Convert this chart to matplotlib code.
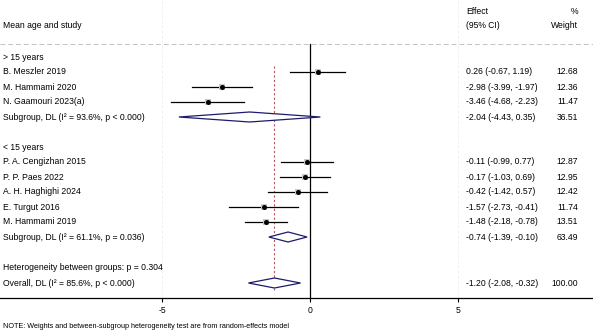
import matplotlib
matplotlib.use("Agg")
import matplotlib.pyplot as plt
from matplotlib.patches import Polygon

plt.rcParams['font.family'] = ['Liberation Sans', 'DejaVu Sans']

# ---- data ----
studies_g1 = ["B. Meszler 2019", "M. Hammami 2020", "N. Gaamouri 2023(a)"]
eff_g1 = [0.26, -2.98, -3.46]
lo_g1 = [-0.67, -3.99, -4.68]
hi_g1 = [1.19, -1.97, -2.23]
w_g1 = [12.68, 12.36, 11.47]
sub_g1 = (-2.04, -4.43, 0.35, 36.51)
sub_g1_label = "Subgroup, DL (I² = 93.6%, p < 0.000)"

studies_g2 = ["P. A. Cengizhan 2015", "P. P. Paes 2022", "A. H. Haghighi 2024",
              "E. Turgut 2016", "M. Hammami 2019"]
eff_g2 = [-0.11, -0.17, -0.42, -1.57, -1.48]
lo_g2 = [-0.99, -1.03, -1.42, -2.73, -2.18]
hi_g2 = [0.77, 0.69, 0.57, -0.41, -0.78]
w_g2 = [12.87, 12.95, 12.42, 11.74, 13.51]
sub_g2 = (-0.74, -1.39, -0.10, 63.49)
sub_g2_label = "Subgroup, DL (I² = 61.1%, p = 0.036)"

overall = (-1.20, -2.08, -0.32, 100.00)
overall_label = "Overall, DL (I² = 85.6%, p < 0.000)"
het_label = "Heterogeneity between groups: p = 0.304"
group_labels = ["> 15 years", "< 15 years"]
xticks = [-5, 0, 5]

W, H = 593, 330
fig = plt.figure(figsize=(W / 100, H / 100), dpi=100)
axis_px = 298
ax = fig.add_axes([0, (H - axis_px) / H, 1, axis_px / H])
px_per_unit = 29.6
x0_px = 310
ax.set_xlim(-x0_px / px_per_unit, (W - x0_px) / px_per_unit)
ax.set_ylim(axis_px, 0)
for s in ["left", "right", "top"]:
    ax.spines[s].set_visible(False)
ax.spines["bottom"].set_linewidth(0.9)
ax.set_yticks([])
ax.set_xticks(xticks)
ax.set_xticklabels([str(t) for t in xticks], fontsize=6.2)
ax.tick_params(axis='x', length=3, width=0.8, pad=3)
ax.set_facecolor('none')

fs = 6.2
navy = "#1c1c6c"
xtxt = ax.get_xlim()[0] + 3 / px_per_unit
xeff = (466 - x0_px) / px_per_unit
xw = (578 - x0_px) / px_per_unit

# faint gridlines
for t in [-5, 5]:
    ax.plot([t, t], [0, axis_px], color="#efefef", lw=0.6, ls=(0, (4, 2)), zorder=0)
ax.plot(ax.get_xlim(), [44, 44], color="#c4c4c4", lw=0.7, ls=(0, (5, 3)), zorder=0)

# headers
ax.text(xtxt, 26, "Mean age and study", fontsize=fs, va='center', ha='left')
ax.text(xeff, 11, "Effect", fontsize=fs, va='center', ha='left')
ax.text(xeff, 26, "(95% CI)", fontsize=fs, va='center', ha='left')
ax.text(xw, 11, "%", fontsize=fs, va='center', ha='right')
ax.text(xw, 26, "Weight", fontsize=fs, va='center', ha='right')

def fmt(e, l, h):
    return f"{e:.2f} ({l:.2f}, {h:.2f})"

def study_rows(names, eff, lo, hi, w, ystart):
    y = ystart
    for n, e, l, h, wt in zip(names, eff, lo, hi, w):
        ax.plot([l, h], [y, y], color='black', lw=0.9, zorder=3)
        ax.scatter([e], [y], marker='s', s=wt * 1.5, color='#c8c8c8', zorder=3, linewidths=0)
        ax.scatter([e], [y], marker='o', s=13, color='black', zorder=4, linewidths=0)
        ax.text(xtxt, y, n, fontsize=fs, va='center', ha='left')
        ax.text(xeff, y, fmt(e, l, h), fontsize=fs, va='center', ha='left')
        ax.text(xw, y, f"{wt:.2f}", fontsize=fs, va='center', ha='right')
        y += 15
    return y

def diamond(vals, label, y):
    e, l, h, wt = vals
    poly = Polygon([[l, y], [e, y - 5], [h, y], [e, y + 5]], closed=True,
                   facecolor='white', edgecolor=navy, lw=0.9, zorder=5)
    ax.add_patch(poly)
    ax.text(xtxt, y, label, fontsize=fs, va='center', ha='left')
    ax.text(xeff, y, fmt(e, l, h), fontsize=fs, va='center', ha='left')
    ax.text(xw, y, f"{wt:.2f}", fontsize=fs, va='center', ha='right')

# vertical reference lines
ax.plot([0, 0], [44, axis_px], color='black', lw=0.9, zorder=2)
ax.plot([overall[0]] * 2, [66, 290], color='#b8505e', lw=0.8, ls=(0, (2, 2)), zorder=2)

ax.text(xtxt, 57, group_labels[0], fontsize=fs, va='center', ha='left')
y = study_rows(studies_g1, eff_g1, lo_g1, hi_g1, w_g1, 72)
diamond(sub_g1, sub_g1_label, y)

ax.text(xtxt, 147, group_labels[1], fontsize=fs, va='center', ha='left')
y = study_rows(studies_g2, eff_g2, lo_g2, hi_g2, w_g2, 162)
diamond(sub_g2, sub_g2_label, y)

ax.text(xtxt, 268, het_label, fontsize=fs, va='center', ha='left')
diamond(overall, overall_label, 283)

fig.text(3 / W, 1 - 326 / H, "NOTE: Weights and between-subgroup heterogeneity test are from random-effects model",
         fontsize=5.2, va='center', ha='left')

fig.savefig("out.png", dpi=100, facecolor='white')
